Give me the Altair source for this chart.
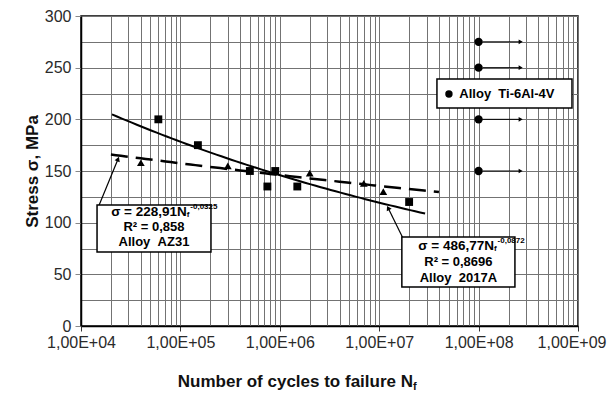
import altair as alt
import pandas as pd
import math

# ---------------- data ----------------
# Alloy 2017A (squares)
n_2017a = [6.0e4, 1.5e5, 5.0e5, 7.5e5, 9.0e5, 1.5e6, 2.0e7]
s_2017a = [200, 175, 150, 135, 150, 135, 120]
# Alloy AZ31 (triangles)
n_az31 = [4.0e4, 3.0e5, 2.0e6, 7.0e6, 1.1e7]
s_az31 = [158, 155, 148, 138, 130]
# Alloy Ti-6Al-4V run-outs (circles with arrows)
n_ti = [1e8, 1e8, 1e8, 1e8]
s_ti = [275, 250, 200, 150]
n_ti_arrow_start = 1.1e8
n_ti_arrow_end = 2.65e8

# printed power-law fits: sigma = a * N^b, drawn over [n_from, n_to]
fit_2017a = {"a": 486.77, "b": -0.0872, "n_from": 2.05e4, "n_to": 2.9e7}
fit_az31 = {"a": 228.91, "b": -0.0325, "n_from": 2.0e4, "n_to": 4.3e7}

# axis ticks
x_ticks = [k * 10 ** d for d in range(4, 9) for k in range(1, 10)] + [1e9]
y_ticks = list(range(0, 301, 25))

# annotation boxes (data coordinates)
box_az31 = {"n1": 1.45e4, "n2": 2.03e5, "s1": 71.6, "s2": 117.1}
box_2017a = {"n1": 1.69e7, "n2": 2.32e8, "s1": 37.7, "s2": 86.1}
box_ti = {"n1": 3.81e7, "n2": 8.7e8, "s1": 211, "s2": 239}

eq_az31 = ["\u03c3 = 228,91N", "f", "-0,0325", "R\u00b2 = 0,858", "Alloy\u00a0\u00a0AZ31"]
eq_2017a = ["\u03c3 = 486,77N", "f", "-0,0872", "R\u00b2 = 0,8696", "Alloy\u00a0\u00a02017A"]
ti_label = "Alloy\u00a0\u00a0Ti-6Al-4V"

# text anchors
az31_eq_anchor = (1.16e5, 110.3)
az31_center_n = 5.42e4
az31_line_s = [95.8, 81.3]
a2017_eq_anchor = (1.43e8, 77.4)
a2017_center_n = 6.26e7
a2017_line_s = [61.9, 46.5]
ti_marker = (5.03e7, 224.5)
ti_text_n = 6.4e7

# pointer arrows (base -> tip)
arrow_az31 = {"n": 1.48e4, "s": 114.2, "n2": 2.36e4, "s2": 161.6}
arrow_2017a = {"n": 1.73e7, "s": 85.2, "n2": 1.23e7, "s2": 114.2}

# ---------------- chart ----------------
FONT = "Liberation Sans"
W, H = 497, 310
xs = alt.Scale(type="log", domain=[1e4, 1e9])
ys = alt.Scale(domain=[0, 300])

is_decade = "abs(log(datum.value)/LN10 - round(log(datum.value)/LN10)) < 0.001"
is_last = "datum.value > 5e8"

x_axis = alt.Axis(
    values=x_ticks,
    labelExpr=f"{is_decade} ? '1,00E+0' + round(log(datum.value)/LN10) : ''",
    grid=True, gridColor="#737373", gridWidth=1,
    tickColor=alt.condition(is_decade, alt.value("#333"), alt.value("transparent")),
    tickSize=5, domainColor="black", domainWidth=1.5,
    labelFont=FONT, labelFontSize=16, labelColor="#2a2a2a", labelPadding=3,
    labelAlign=alt.condition(is_last, alt.value("right"), alt.value("center")),
    labelOffset=alt.condition(is_last, alt.value(28), alt.value(0)),
    labelOverlap=False, labelFlush=False, title=None,
)
y_axis = alt.Axis(
    values=y_ticks,
    labelExpr="datum.value % 50 == 0 ? datum.label : ''",
    grid=True, gridColor="#737373", gridWidth=1,
    tickColor=alt.condition("datum.value % 50 == 0", alt.value("#888"), alt.value("transparent")),
    tickSize=6, domainColor="black", domainWidth=1.5,
    labelFont=FONT, labelFontSize=16, labelColor="#2a2a2a", labelPadding=4,
    title="Stress \u03c3, MPa", titleFont=FONT, titleFontSize=17,
    titleFontWeight="bold", titleColor="#111", titlePadding=3,
)


def X(f="N"):
    return alt.X(f"{f}:Q", scale=xs, axis=x_axis)


def Y(f="S"):
    return alt.Y(f"{f}:Q", scale=ys, axis=y_axis)


df_2017a = pd.DataFrame({"N": n_2017a, "S": s_2017a})
df_az31 = pd.DataFrame({"N": n_az31, "S": s_az31})
df_ti = pd.DataFrame({"N": n_ti, "S": s_ti,
                      "N1": [n_ti_arrow_start] * len(n_ti),
                      "N2": [n_ti_arrow_end] * len(n_ti)})

squares = alt.Chart(df_2017a).mark_point(shape="square", filled=True, size=62, color="black", opacity=1).encode(
    x=X(), y=Y())
triangles = alt.Chart(df_az31).mark_point(shape="triangle-up", filled=True, size=60, color="black", opacity=1).encode(
    x=X(), y=Y())


def fit_curve(fit, **style):
    return (alt.Chart(alt.sequence(math.log10(fit["n_from"]), math.log10(fit["n_to"]) + 0.001, 0.05, as_="t"))
            .transform_calculate(N="pow(10, datum.t)")
            .transform_calculate(S=f"{fit['a']} * pow(datum.N, {fit['b']})")
            .mark_line(color="black", **style)
            .encode(x=X(), y=Y(), order="t:Q"))


curve_2017a = fit_curve(fit_2017a, strokeWidth=2)
curve_az31 = fit_curve(fit_az31, strokeWidth=2.5, strokeDash=[17, 8])

ti_points = alt.Chart(df_ti).mark_point(shape="circle", filled=True, size=70, color="black", opacity=1).encode(
    x=X(), y=Y())
ti_arrows = alt.Chart(df_ti).mark_rule(color="black", strokeWidth=1).encode(
    x=X("N1"), x2="N2:Q", y=Y())
ti_heads = alt.Chart(df_ti).mark_point(shape="triangle-right", filled=True, size=22, color="black", opacity=1).encode(
    x=X("N2"), y=Y())


def box(b):
    d = pd.DataFrame([b])
    return alt.Chart(d).mark_rect(fill="white", stroke="black", strokeWidth=1.5).encode(
        x=X("n1"), x2="n2:Q", y=Y("s1"), y2="s2:Q")


def arrow(a, angle):
    d = pd.DataFrame([a])
    line = alt.Chart(d).mark_rule(color="black", strokeWidth=1.2).encode(
        x=X("n"), x2="n2:Q", y=Y("s"), y2="s2:Q")
    head = alt.Chart(d).mark_point(shape="triangle-up", filled=True, size=30, color="black",
                                   opacity=1, angle=angle).encode(x=X("n2"), y=Y("s2"))
    return [line, head]


def equation(lines, anchor, center_n, line_s):
    main = pd.DataFrame({"N": [anchor[0]], "S": [anchor[1]], "t": [lines[0]]})
    sub = pd.DataFrame({"N": [anchor[0]], "S": [anchor[1]], "t": [lines[1]]})
    sup = pd.DataFrame({"N": [anchor[0]], "S": [anchor[1]], "t": [lines[2]]})
    rest = pd.DataFrame({"N": [center_n] * 2, "S": line_s, "t": lines[3:]})
    tx = dict(font=FONT, fontWeight="bold", color="black")
    return [
        alt.Chart(main).mark_text(align="right", baseline="middle", fontSize=13.5, **tx).encode(x=X(), y=Y(), text="t:N"),
        alt.Chart(sub).mark_text(align="left", baseline="middle", fontSize=8, dx=0, dy=3, **tx).encode(x=X(), y=Y(), text="t:N"),
        alt.Chart(sup).mark_text(align="left", baseline="middle", fontSize=8, dx=3.5, dy=-5, **tx).encode(x=X(), y=Y(), text="t:N"),
        alt.Chart(rest).mark_text(align="center", baseline="middle", fontSize=13, **tx).encode(x=X(), y=Y(), text="t:N"),
    ]


ti_leg_pt = alt.Chart(pd.DataFrame({"N": [ti_marker[0]], "S": [ti_marker[1]]})).mark_point(
    shape="circle", filled=True, size=55, color="black", opacity=1).encode(x=X(), y=Y())
ti_leg_tx = alt.Chart(pd.DataFrame({"N": [ti_text_n], "S": [ti_marker[1]], "t": [ti_label]})).mark_text(
    align="left", baseline="middle", font=FONT, fontSize=13, fontWeight="bold", color="black").encode(
    x=X(), y=Y(), text="t:N")

xtitle = alt.Chart(pd.DataFrame({"t": ["Number of cycles to failure N"]})).mark_text(
    align="right", baseline="middle", font=FONT, fontSize=17, fontWeight="bold", color="#111").encode(
    x=alt.value(332), y=alt.value(366), text="t:N")
xtitle_sub = alt.Chart(pd.DataFrame({"t": ["f"]})).mark_text(
    align="left", baseline="middle", font=FONT, fontSize=11, fontWeight="bold", color="#111").encode(
    x=alt.value(332), y=alt.value(371), text="t:N")

layers = [squares, triangles, curve_2017a, curve_az31, ti_arrows, ti_heads, ti_points]
layers += arrow(arrow_az31, 22) + arrow(arrow_2017a, 333)
layers += [box(box_az31), box(box_2017a), box(box_ti)]
layers += equation(eq_az31, az31_eq_anchor, az31_center_n, az31_line_s)
layers += equation(eq_2017a, a2017_eq_anchor, a2017_center_n, a2017_line_s)
layers += [ti_leg_pt, ti_leg_tx, xtitle, xtitle_sub]

chart = alt.layer(*layers).properties(
    width=W, height=H,
    autosize=alt.AutoSizeParams(type="none"),
    padding={"left": 73, "top": 8, "right": 29, "bottom": 67},
    background="white",
).configure_view(stroke="black", strokeWidth=1.5)

chart.save("out.html", embed_options={"renderer": "svg", "actions": False})
